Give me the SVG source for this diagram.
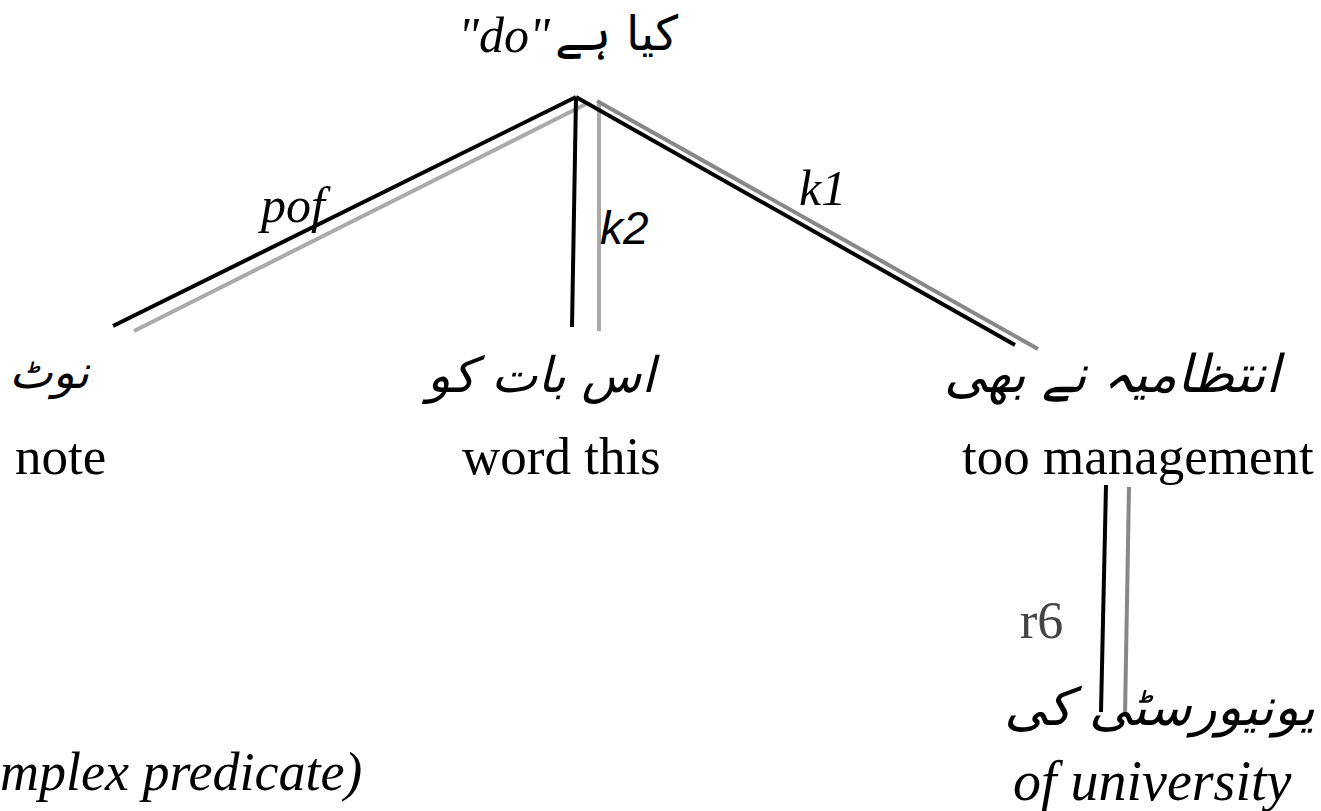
<svg xmlns="http://www.w3.org/2000/svg" width="1321" height="811" viewBox="0 0 1321 811">
<style>
.bg{fill:#fff}
.blk{stroke:#000;stroke-width:4;fill:none}
.gry{stroke:#aaa;stroke-width:4;fill:none}
.gry2{stroke:#888;stroke-width:4;fill:none}
.ur{font-family:"DejaVu Sans",sans-serif;font-style:italic;font-size:52px;fill:#000}
.en{font-family:"Liberation Serif",serif;font-size:53px;fill:#000}
.it{font-family:"Liberation Serif",serif;font-style:italic;font-size:54px;fill:#000}
.lbl{font-family:"Liberation Serif",serif;font-style:italic;font-size:50px;fill:#000}
.lbls{font-family:"Liberation Sans",sans-serif;font-style:italic;font-size:46px;fill:#000}
.r6{font-family:"Liberation Serif",serif;font-size:52px;fill:#444}
</style>
<rect class="bg" x="0" y="0" width="1321" height="811"/>
<g id="connectors">
<line class="gry" x1="586" y1="104" x2="134" y2="331"/>
<line class="blk" x1="576" y1="97" x2="113" y2="326"/>
<line class="gry" x1="599" y1="104" x2="599" y2="331"/>
<line class="blk" x1="576" y1="97" x2="572" y2="327"/>
<line class="gry2" x1="597" y1="101" x2="1038" y2="349"/>
<line class="blk" x1="576" y1="97" x2="1015" y2="345"/>
<line class="gry2" x1="1129" y1="487" x2="1125" y2="716"/>
<line class="blk" x1="1106" y1="485" x2="1101" y2="712"/>
<text class="lbl" x="261" y="222">pof</text>
<text class="lbls" x="600" y="244">k2</text>
<text class="lbl" x="799" y="205">k1</text>
<text class="r6" x="1020" y="638">r6</text>
</g>
<g id="root">
<text class="it" x="458" y="52" style="font-size:50px">"do"</text>
<text class="ur" x="678" y="50" text-anchor="end" style="font-size:48px;font-style:normal">کیا ہے</text>
</g>
<g id="n_note">
<text class="ur" x="89" y="388" text-anchor="end" style="font-size:46px">نوٹ</text>
<text class="en" x="15" y="474">note</text>
</g>
<g id="n_word">
<text class="ur" x="655" y="392" text-anchor="end" style="font-size:49px">اس بات کو</text>
<text class="en" x="462" y="474">word this</text>
</g>
<g id="n_mgmt">
<text class="ur" x="1280" y="392" text-anchor="end">انتظامیہ نے بھی</text>
<text class="en" x="962" y="474">too management</text>
</g>
<g id="n_univ">
<text class="ur" x="1315" y="725" text-anchor="end">یونیورسٹی کی</text>
<text class="it" x="1013" y="800" style="font-size:56px">of  university</text>
</g>
<g id="caption">
<text class="it" x="0" y="790">mplex predicate)</text>
</g>
</svg>
